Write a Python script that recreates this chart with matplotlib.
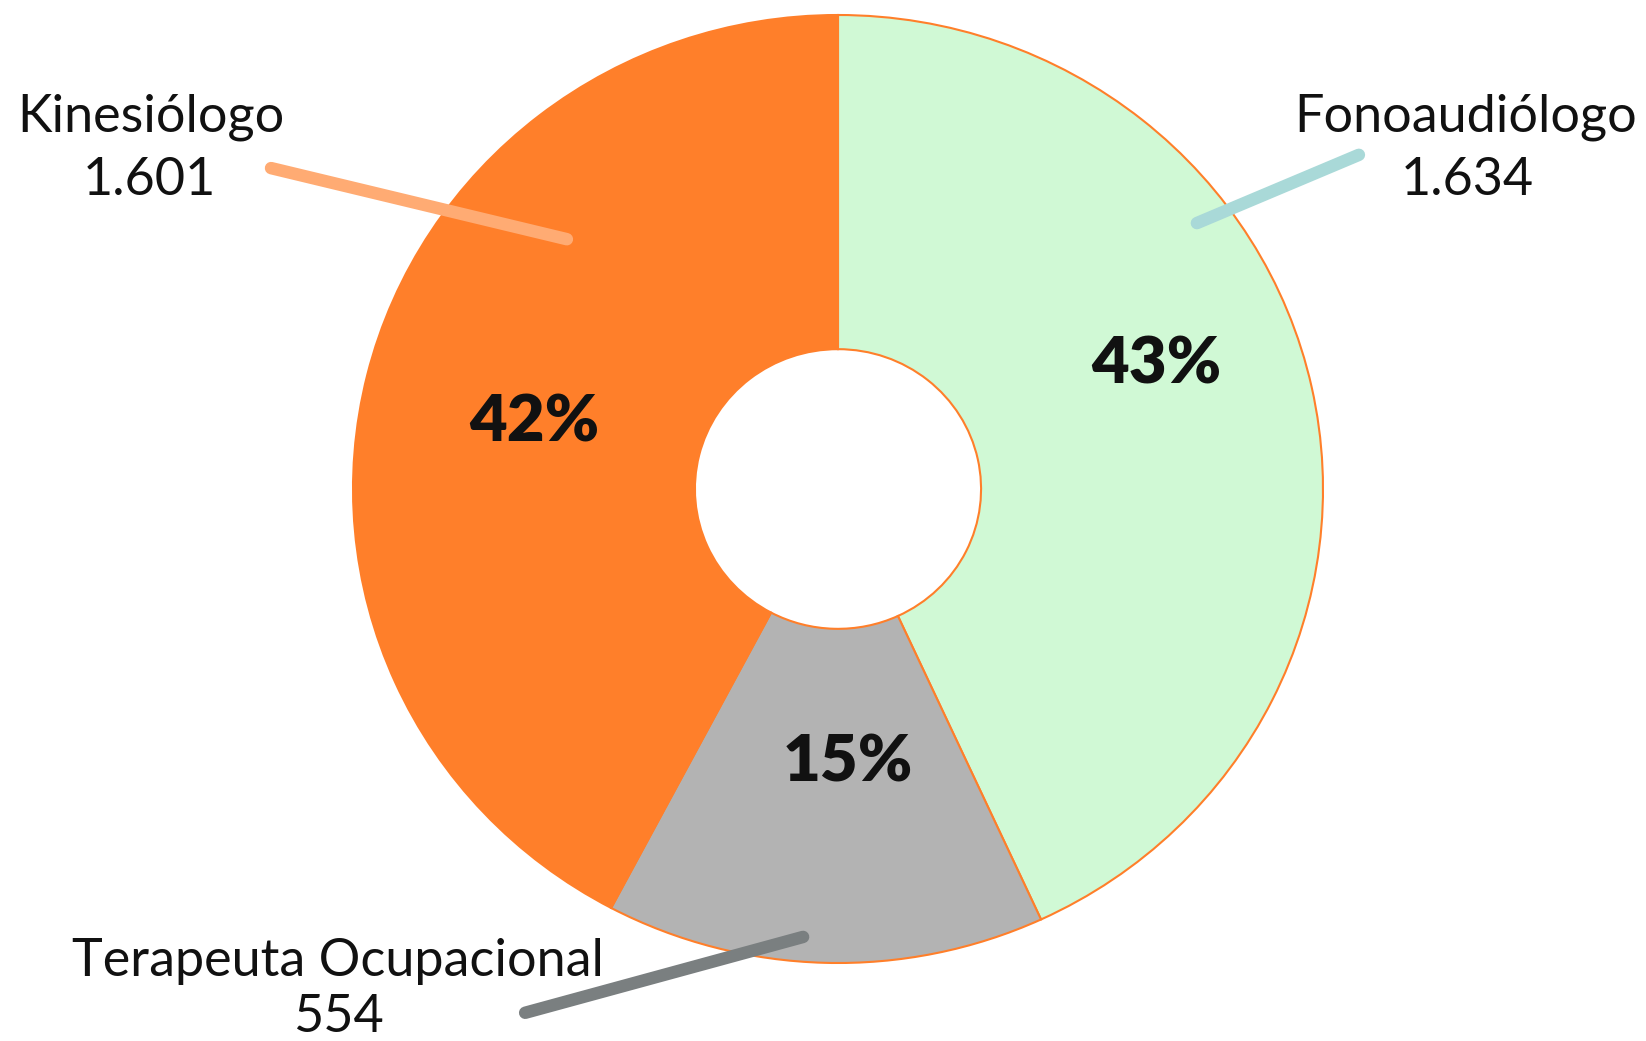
import matplotlib.pyplot as plt

# --- data ---
categories = ["Fonoaudiólogo", "Terapeuta Ocupacional", "Kinesiólogo"]
counts = [1634, 554, 1601]
colors = ["#D0F9D5", "#B3B3B3", "#FF7F2A"]
leader_colors = ["#A9D9D8", "#7A7F80", "#FFAB73"]

# --- layout (data units, pie radius = 1) ---
pct_pos = [(0.656, 0.262), (0.021, -0.578), (-0.627, 0.139)]
name_pos = [(1.295, 0.755), (-1.031, -1.027), (-1.416, 0.755)]
num_pos = [(1.297, 0.620), (-1.031, -1.146), (-1.419, 0.620)]
leaders = [
    ((1.074, 0.705), (0.740, 0.561)),
    ((-0.072, -0.945), (-0.645, -1.105)),
    ((-1.169, 0.677), (-0.559, 0.527)),
]

W, H = 1646, 1041
fig = plt.figure(figsize=(W / 100, H / 100), dpi=100)
ax = fig.add_axes([0, 0, 1, 1])

wedges, _, autotexts = ax.pie(
    counts, colors=colors, startangle=90, counterclock=False,
    autopct="%.0f%%", radius=1.0,
    wedgeprops=dict(width=0.705, edgecolor="#FF7F2A", linewidth=1.5),
    textprops=dict(family="Lato", fontweight="heavy", fontsize=47, color="#111111"),
)

for t, (x, y) in zip(autotexts, pct_pos):
    t.set_position((x, y))
    t.set_ha("center")
    t.set_va("center")

# leader lines
for (p0, p1), c in zip(leaders, leader_colors):
    ax.plot([p0[0], p1[0]], [p0[1], p1[1]], color=c, lw=9,
            solid_capstyle="round", zorder=5)

# category labels with counts
for name, n, (nx, ny), (vx, vy) in zip(categories, counts, name_pos, num_pos):
    ax.text(nx, ny, name, ha="center", va="baseline", family="Lato",
            fontsize=37.5, color="#111111")
    ax.text(vx, vy, f"{n:,}".replace(",", "."), ha="center", va="baseline",
            family="Lato", fontsize=37.5, color="#111111")

# slightly squashed pie like the reference
ax.set_aspect("auto")
ax.set_xlim(-838 / 485, (W - 838) / 485)
ax.set_ylim((489 - H) / 474, 489 / 474)
ax.axis("off")

fig.savefig("out.png", dpi=100, facecolor="white")
